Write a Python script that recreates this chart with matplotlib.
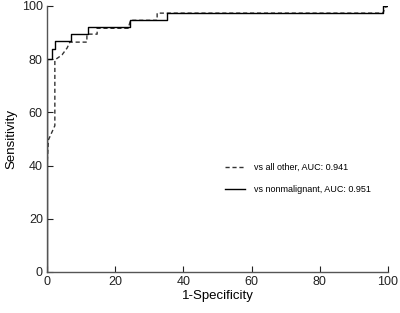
import matplotlib
matplotlib.use('Agg')
import matplotlib.pyplot as plt

plt.rcParams['font.family'] = ['Liberation Sans', 'DejaVu Sans']

# Dane (1-Specificity, Sensitivity)
fpr_all = [0, 0, 0.4, 2.3, 2.3, 4.4, 5.9, 6.7, 11.7, 11.7, 14.7, 14.7, 23.8, 24.5, 32.3, 32.3, 98.5, 99.2, 100]
tpr_all = [0, 39.5, 49.6, 55, 79.7, 81.6, 84.2, 86.4, 86.4, 89.4, 89.4, 91.6, 91.6, 94.6, 94.6, 97.3, 97.3, 99.5, 100]

fpr_nonmal = [0, 0, 1.4, 1.4, 2.3, 2.3, 7, 7, 12, 12, 24.3, 24.3, 35.2, 35.2, 98.5, 98.5, 100]
tpr_nonmal = [0, 80, 80, 83.8, 83.8, 87, 87, 89.5, 89.5, 92.2, 92.2, 94.7, 94.7, 97.3, 97.3, 100, 100]

ticks = [0, 20, 40, 60, 80, 100]

fig = plt.figure(figsize=(4, 3.13), dpi=100)
ax = fig.add_axes([0.1175, 0.131, 0.8525, 0.85])

ax.plot(fpr_all, tpr_all, color='#333333', linestyle=(0, (3, 2)), linewidth=1.0,
        label='vs all other, AUC: 0.941')
ax.plot(fpr_nonmal, tpr_nonmal, color='black', linestyle='-', linewidth=1.0,
        label='vs nonmalignant, AUC: 0.951')

ax.set_xlim(0, 100)
ax.set_ylim(0, 100)
ax.set_xticks(ticks)
ax.set_yticks(ticks)
ax.tick_params(direction='in', length=4, width=0.8, labelsize=9, colors='#222222', pad=3)
ax.spines['top'].set_visible(False)
ax.spines['right'].set_visible(False)
for s in ['left', 'bottom']:
    ax.spines[s].set_color('#555555')
    ax.spines[s].set_linewidth(1.0)

ax.set_xlabel('1-Specificity', fontsize=9.5, labelpad=1)
ax.set_ylabel('Sensitivity', fontsize=9.5, labelpad=3)

ax.legend(loc='upper left', bbox_to_anchor=(0.522, 0.41), frameon=False,
          borderaxespad=0, borderpad=0,
          fontsize=6.5, handlelength=2.2, handletextpad=1.0, labelspacing=1.5)

fig.savefig('out.png', dpi=100)
